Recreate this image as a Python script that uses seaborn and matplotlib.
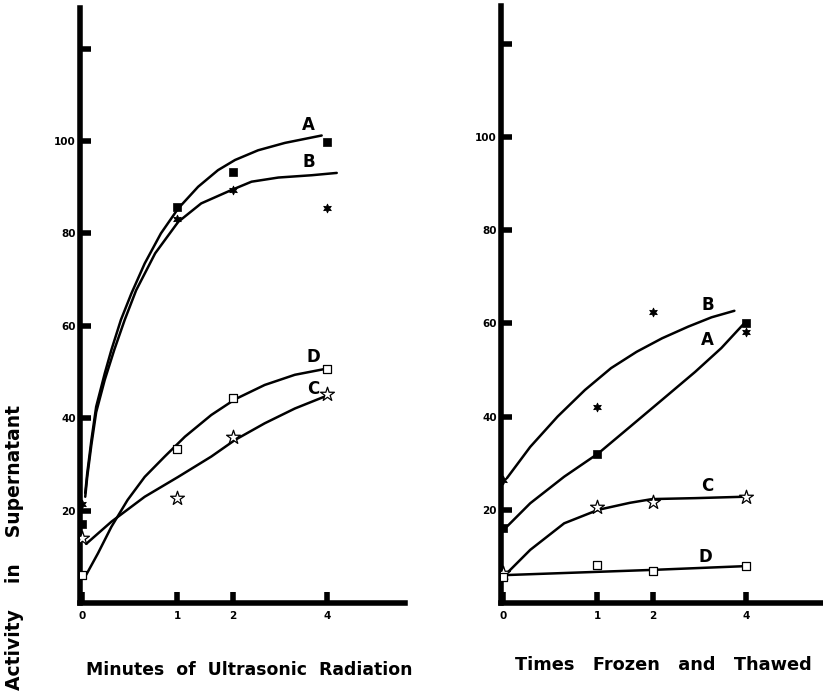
import numpy as np
import pandas as pd
import matplotlib
matplotlib.use("Agg")
import matplotlib.pyplot as plt
import seaborn as sns

# ---------------- data ----------------
x_pts = [0, 1, 2, 4]
x_ticklabels = ["0", "1", "2", "4"]
y_ticks = [20, 40, 60, 80, 100, 120]
y_ticklabels = ["20", "40", "60", "80", "100", ""]

# Left panel: minutes of ultrasonic radiation (measured points)
us_A = [17.2, 85.7, 93.3, 99.8]
us_B = [21.5, 83.1, 89.4, 85.5]
us_C = [14.0, 22.7, 35.9, 45.2]
us_D = [6.0, 33.3, 44.4, 50.6]

# Left panel: hand-drawn curves
us_curveA_x = [0.035, 0.056, 0.10, 0.15, 0.24, 0.31, 0.41, 0.52, 0.66, 0.83,
               1.02, 1.375, 1.73, 2.04, 2.53, 3.10, 3.88]
us_curveA_y = [23.8, 28.1, 35.3, 42.5, 49.7, 54.8, 61.3, 67.0, 73.5, 80.0,
               85.4, 90.1, 93.7, 95.9, 98.0, 99.6, 101.2]
us_curveB_x = [0.035, 0.056, 0.10, 0.15, 0.24, 0.34, 0.45, 0.57, 0.77, 1.02,
               1.43, 1.97, 2.39, 2.96, 3.67, 4.20]
us_curveB_y = [23.0, 27.3, 34.3, 41.3, 48.3, 54.8, 61.3, 67.7, 75.7, 82.5,
               86.5, 89.4, 91.2, 92.1, 92.6, 93.1]
us_curveC_x = [0.045, 0.31, 0.66, 1.02, 1.61, 2.04, 2.67, 3.31, 4.02]
us_curveC_y = [12.8, 17.6, 23.0, 27.3, 31.7, 35.3, 38.9, 42.1, 45.0]
us_curveD_x = [0.045, 0.17, 0.31, 0.48, 0.66, 0.87, 1.14, 1.61, 2.04, 2.67,
               3.31, 4.02]
us_curveD_y = [6.1, 10.8, 16.5, 22.3, 27.3, 31.7, 36.0, 40.7, 44.1, 47.2,
               49.4, 50.8]

# Right panel: times frozen and thawed (measured points)
ft_A = [16.1, 32.0, np.nan, 60.0]
ft_B = [26.4, 42.1, 62.4, 58.2]
ft_C = [6.4, 20.6, 21.7, 22.7]
ft_D = [5.6, 8.2, 6.9, 7.9]

# Right panel curves
ft_curveA_x = [0.043, 0.29, 0.65, 1.02, 1.59, 2.20, 2.91, 3.47, 3.96]
ft_curveA_y = [16.4, 21.4, 27.1, 32.1, 37.8, 43.6, 49.6, 54.7, 60.0]
ft_curveB_x = [0.043, 0.29, 0.58, 0.87, 1.25, 1.71, 2.20, 2.76, 3.26, 3.75]
ft_curveB_y = [26.8, 33.5, 40.0, 45.7, 50.4, 53.9, 56.8, 59.3, 61.3, 62.7]
ft_curveC_x = [0.043, 0.29, 0.65, 1.02, 1.59, 1.99, 2.91, 3.96]
ft_curveC_y = [6.4, 11.4, 17.1, 20.0, 21.5, 22.3, 22.5, 22.8]
ft_curveD_x = [0.043, 1.99, 3.96]
ft_curveD_y = [6.0, 7.1, 7.9]

series_names = ["A", "B", "C", "D"]

# ---------------- style ----------------
sns.set_style("ticks")
plt.rcParams["font.family"] = ["DejaVu Sans"]
for k in ["text.color", "axes.labelcolor", "xtick.color", "ytick.color",
          "axes.edgecolor"]:
    plt.rcParams[k] = "black"

# uneven x axis of the original (0,1,2,4 are not equally spaced)
_kx = [-1, 0, 1, 2, 4, 10]
_kp = [-95, 0, 95, 151, 245, 527]


def fwd(v):
    return np.interp(v, _kx, _kp)


def inv(p):
    return np.interp(p, _kp, _kx)


fig = plt.figure(figsize=(8.23, 6.95), dpi=100)
axL = fig.add_axes([80 / 823, 92 / 695, 325 / 823, 595 / 695])
axR = fig.add_axes([501 / 823, 92 / 695, 322 / 823, 597 / 695])

markers = {
    "A": dict(marker="s", s=30, color="black", edgecolor="black", linewidth=0.5),
    "B": dict(marker=(6, 1, 0), s=40, color="black", edgecolor="black", linewidth=0.6),
    "C": dict(marker="*", s=110, color="white", edgecolor="black", linewidth=0.9),
    "D": dict(marker="s", s=30, color="white", edgecolor="black", linewidth=0.9),
}


def draw_panel(ax, pts, curves, ylim_top, labels):
    ax.set_xscale("function", functions=(fwd, inv))
    for name, (cx, cy) in zip(series_names, curves):
        df = pd.DataFrame({"x": cx, "y": cy})
        sns.lineplot(data=df, x="x", y="y", ax=ax, color="black", lw=1.8,
                     sort=False, estimator=None, legend=False)
    for name, vals in zip(series_names, pts):
        df = pd.DataFrame({"x": x_pts, "y": vals}).dropna()
        sns.scatterplot(data=df, x="x", y="y", ax=ax, legend=False, zorder=5,
                        **markers[name])
    for name, (lx, ly) in labels.items():
        ax.text(lx, ly, name, fontsize=12, fontweight="bold", ha="center",
                va="center", color="black")
    ax.set_xlim(-0.02, 5.65)
    ax.set_ylim(0, ylim_top)
    ax.set_xticks(x_pts)
    ax.set_xticklabels(x_ticklabels)
    ax.set_yticks(y_ticks)
    ax.set_yticklabels(y_ticklabels)
    ax.tick_params(axis="both", direction="in", length=8, width=4,
                   labelsize=7.5, colors="black")
    for lab in ax.get_xticklabels() + ax.get_yticklabels():
        lab.set_fontweight("bold")
    ax.tick_params(axis="y", pad=3)
    ax.tick_params(axis="x", pad=6)
    sns.despine(ax=ax)
    ax.spines["left"].set_linewidth(4)
    ax.spines["bottom"].set_linewidth(4)
    ax.spines["left"].set_color("black")
    ax.spines["bottom"].set_color("black")
    ax.set_xlabel("")
    ax.set_ylabel("")
    ax.patch.set_alpha(0)


draw_panel(
    axL,
    [us_A, us_B, us_C, us_D],
    [(us_curveA_x, us_curveA_y), (us_curveB_x, us_curveB_y),
     (us_curveC_x, us_curveC_y), (us_curveD_x, us_curveD_y)],
    128.8,
    {"A": (3.6, 103.5), "B": (3.6, 95.5), "C": (3.7, 46.3), "D": (3.7, 53.2)},
)
draw_panel(
    axR,
    [ft_A, ft_B, ft_C, ft_D],
    [(ft_curveA_x, ft_curveA_y), (ft_curveB_x, ft_curveB_y),
     (ft_curveC_x, ft_curveC_y), (ft_curveD_x, ft_curveD_y)],
    128.1,
    {"A": (3.18, 56.4), "B": (3.18, 64.0), "C": (3.16, 25.0), "D": (3.12, 9.8)},
)

fig.text(249 / 823, 1 - 670 / 695, "Minutes  of  Ultrasonic  Radiation",
         fontsize=12.4, fontweight="bold", ha="center", va="center")
fig.text(663 / 823, 1 - 665 / 695, "Times   Frozen   and   Thawed",
         fontsize=12.8, fontweight="bold", ha="center", va="center")
fig.text(15 / 823, 1 - 547 / 695, "Activity    in    Supernatant",
         fontsize=13.5, fontweight="bold", ha="center", va="center",
         rotation=90)

fig.savefig("out.png", dpi=100, facecolor="white")
